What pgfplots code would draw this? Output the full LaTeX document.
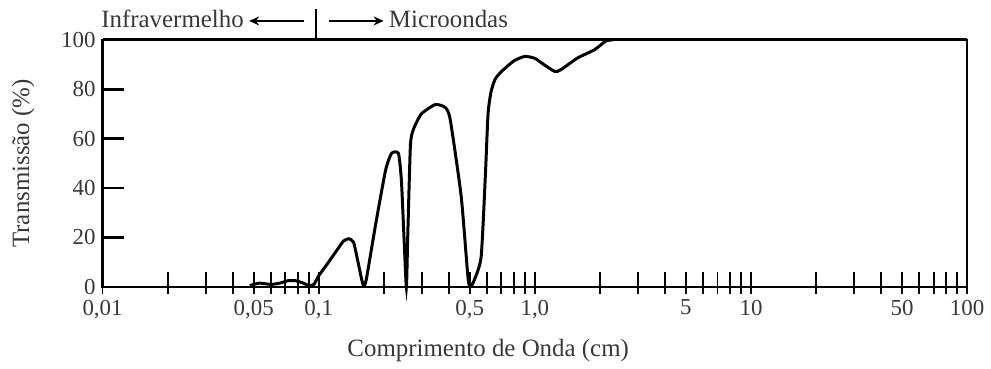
\documentclass[border=0pt]{standalone}
\usepackage{fontspec}
\setmainfont{Liberation Serif}
\usepackage{pgfplots}
\pgfplotsset{compat=1.18}
\usetikzlibrary{arrows.meta}
\definecolor{txt}{gray}{0.22}
\begin{document}
\begin{tikzpicture}
\begin{axis}[
  scale only axis,
  width=434pt, height=124pt,
  xmode=log, xmin=0.01, xmax=100, ymin=0, ymax=100,
  axis lines=box,
  xtick pos=bottom, ytick pos=left,
  axis line style={line width=1.2pt, -},
  font=\fontsize{11.5}{12}\selectfont\color{txt},
  /pgf/number format/assume math mode=true,
  xtick={0.01,0.05,0.1,0.5,1,5,10,50,100},
  xticklabels={0{,}01,0{,}05,0{,}1,0{,}5,1{,}0,5,10,50,100},
  minor xtick={0.02,0.03,0.04,0.06,0.07,0.08,0.09,0.2,0.3,0.4,0.6,0.7,0.8,0.9,2,3,4,6,7,8,9,20,30,40,60,70,80,90},
  ytick={0,20,40,60,80,100},
  tick align=inside,
  x tick style={line width=0.9pt, black, yshift=-3.5pt},
  x tick label style={font=\fontsize{11.5}{12}\selectfont\color{txt}, yshift=-3pt},
  y tick label style={font=\fontsize{11.5}{12}\selectfont\color{txt}},
  y tick style={line width=1.3pt, black},
  major tick length=11pt, minor tick length=11pt,
  ylabel={Transmissão (\%)},
  ylabel style={at={(axis description cs:-0.092,0.5)}, anchor=center, font=\fontsize{12.5}{13}\selectfont\color{txt}},
  xlabel={Comprimento de Onda (cm)},
  xlabel style={at={(axis description cs:0.446,-0.258)}, anchor=center, font=\fontsize{12.5}{13}\selectfont\color{txt}},
  clip=false,
]
\addplot[black, line width=1.5pt, smooth, tension=0.35] coordinates {
(0.048,0.5) (0.053,1.5) (0.060,1.0) (0.066,1.5) (0.072,2.5) (0.078,2.5)
(0.085,1.5) (0.09,0.5) (0.095,1) (0.1,4.5) (0.111,10) (0.124,16) (0.13,18.5)
(0.1375,19.5) (0.145,18) (0.152,10) (0.158,3) (0.1612,0.5) (0.166,3)
(0.1831,25) (0.2036,47) (0.217,54) (0.2337,54) (0.2413,43) (0.248,20)
(0.2544,0) (0.258,20) (0.2655,57) (0.274,63.7) (0.2983,70) (0.3461,73.8)
(0.3849,72.6) (0.4058,67.7) (0.456,36.7) (0.49,4) (0.5018,0) (0.52,2)
(0.5639,12) (0.59,45) (0.6072,70) (0.627,79) (0.6542,84) (0.697,87)
(0.8,91.5) (0.8994,93.3) (1.0,92.5) (1.1,90) (1.237,87.2) (1.318,87.9)
(1.578,92.7) (1.890,96) (2.124,99.5) (2.3,100)
};
\draw[line width=1.6pt] (rel axis cs:0,1) -- (rel axis cs:1,1);
\draw[line width=1.2pt] (axis cs:0.097,100) -- ([yshift=15.3pt]axis cs:0.097,100);
\draw[line width=1pt, -{Stealth[length=5pt,width=4.5pt]}] ([shift={(-6pt,9.5pt)}]axis cs:0.097,100) -- ([shift={(-33.5pt,9.5pt)}]axis cs:0.097,100);
\draw[line width=1pt, -{Stealth[length=5pt,width=4.5pt]}] ([shift={(6.5pt,9.5pt)}]axis cs:0.097,100) -- ([shift={(34pt,9.5pt)}]axis cs:0.097,100);
\node[anchor=base east, inner sep=0pt, font=\fontsize{12.5}{13}\selectfont\color{txt}] at ([shift={(-36pt,6.3pt)}]axis cs:0.097,100) {Infravermelho};
\node[anchor=base west, inner sep=0pt, font=\fontsize{12.5}{13}\selectfont\color{txt}] at ([shift={(36.5pt,6.3pt)}]axis cs:0.097,100) {Microondas};
\coordinate (O) at (rel axis cs:0,0);
\end{axis}
\path ([shift={(-51.5pt,-41pt)}]O) rectangle ([shift={(443.5pt,144pt)}]O);
\end{tikzpicture}
\end{document}
